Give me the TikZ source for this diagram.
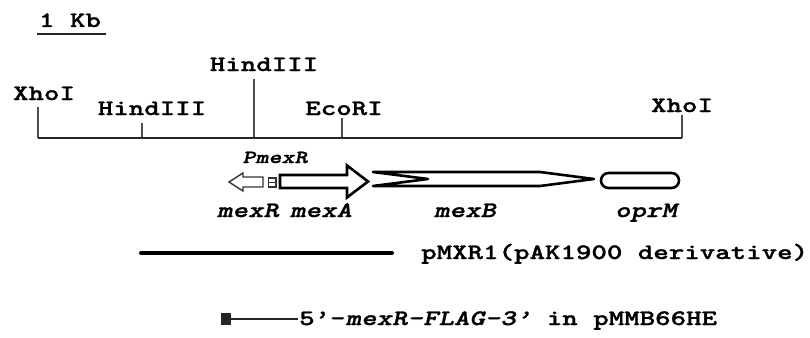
\documentclass[tikz,border=0pt]{standalone}
\usepackage{fontspec}
\newfontfamily\cour[FakeStretch=1.34,FakeBold=1.3,ItalicFont=lmmonolt10-boldoblique.otf,BoldFont=lmmonolt10-bold.otf]{lmmonolt10-bold.otf}
\begin{document}
\begin{tikzpicture}[x=1pt,y=-1pt,
  lab/.style={font=\cour\fontsize{22}{22}\selectfont, inner sep=0pt, anchor=base},
  glab/.style={font=\cour\itshape\fontsize{22}{22}\selectfont, inner sep=0pt, anchor=base},
  small/.style={font=\cour\itshape\fontsize{18.5}{18.5}\selectfont, inner sep=0pt, anchor=base},
  mapline/.style={line width=2.6pt, black!85},
  tick/.style={line width=1.6pt, black!70},
  gene/.style={draw=black, line width=2.6pt, fill=white, line join=round}]
\useasboundingbox (0,0) rectangle (810,337);
% scale bar
\coordinate (sb1) at (37,34); \coordinate (sb2) at (106,34);
\draw[line width=2.4pt, black!85] (sb1) -- (sb2);
\node[lab] (kb) at (70,27) {1 Kb};
% main map line
\coordinate (L) at (38,138); \coordinate (R) at (682,138);
\coordinate (h1) at (142,138); \coordinate (h2) at (254,138); \coordinate (e1) at (342,138);
\coordinate (Lt) at (38,107); \coordinate (Rt) at (682,115);
\coordinate (h1t) at (142,123); \coordinate (h2t) at (254,79); \coordinate (e1t) at (342,118);
\draw[tick] (Lt) -- (L);
\draw[tick] (h1t) -- (h1);
\draw[tick] (h2t) -- (h2);
\draw[tick] (e1t) -- (e1);
\draw[tick] (Rt) -- (R);
\draw[mapline] (L) -- (R);
\node[lab] (xho1) at (44,100) {XhoI};
\node[lab] (hin1) at (152,115) {HindIII};
\node[lab] (hin2) at (264,71) {HindIII};
\node[lab] (eco) at (344,115) {EcoRI};
\node[lab] (xho2) at (682,112) {XhoI};
% genes
\node[small] (pmexr) at (275,163) {PmexR};
\draw[draw=black!80, line width=1.4pt, fill=white, line join=miter]
  (229,182) -- (243,173) -- (243,177) -- (263,177) -- (263,187) -- (243,187) -- (243,191) -- cycle;
\draw[line width=1.3pt, black!80] (268.5,178) rectangle (276,187);
\draw[line width=1.3pt, black!80] (268.5,182.5) -- (276,182.5);
\draw[gene, line join=miter]
  (280,175) -- (347,175) -- (347,165.5) -- (368,181.5) -- (347,197.5) -- (347,188) -- (280,188) -- cycle;
\draw[gene]
  (373,172) -- (540,172) -- (594,179) -- (540,186) -- (373,186) -- (428,179) -- cycle;
\draw[gene, rounded corners=7.5pt] (601,173) rectangle (679,188);
\node[glab] (mexr) at (248,217) {mexR};
\node[glab] (mexa) at (321,217) {mexA};
\node[glab] (mexb) at (465,217) {mexB};
\node[glab] (oprm) at (646,217) {oprM};
% pMXR1
\coordinate (p1) at (141,253); \coordinate (p2) at (392,253);
\draw[line width=4pt, line cap=round] (p1) -- (p2);
\node[lab, anchor=base west] (pmxr) at (421,259) {pMXR1(pAK1900 derivative)};
% FLAG construct
\fill[black!85] (221,313) rectangle (231,325);
\coordinate (f1) at (231,319); \coordinate (f2) at (298,319);
\draw[line width=2.4pt, black!85] (f1) -- (f2);
\node[lab, anchor=base west] (flag) at (299,325) {5’-\textit{mexR-FLAG-3’} in pMMB66HE};
\end{tikzpicture}
\end{document}
